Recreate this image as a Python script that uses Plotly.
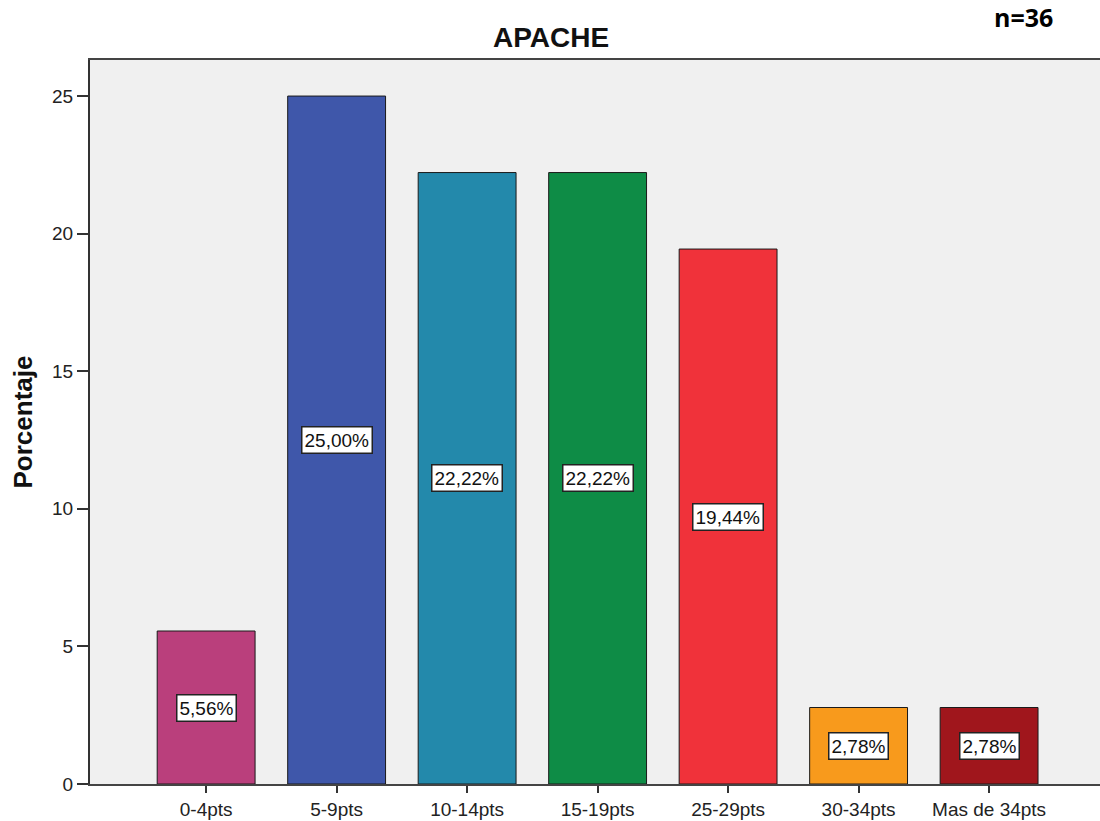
import plotly.graph_objects as go

categories = ["0-4pts", "5-9pts", "10-14pts", "15-19pts", "25-29pts", "30-34pts", "Mas de 34pts"]
percentages = [5.56, 25.00, 22.22, 22.22, 19.44, 2.78, 2.78]
bar_colors = ["#BA3F7C", "#3F57AA", "#2389AB", "#0E8C46", "#F0323A", "#F89A1C", "#A0161C"]
y_ticks = [0, 5, 10, 15, 20, 25]

fig = go.Figure()
fig.add_trace(go.Bar(
    x=list(range(len(categories))),
    y=percentages,
    width=0.75,
    marker=dict(color=bar_colors, line=dict(color="#1a1a1a", width=1)),
    hoverinfo="skip",
))

# value labels in boxes at mid-height of each bar
for i, v in enumerate(percentages):
    fig.add_annotation(
        x=i, y=v / 2, text=f"{v:.2f}".replace(".", ",") + "%",
        showarrow=False, bgcolor="white", bordercolor="#222222", borderwidth=1.5,
        borderpad=2, font=dict(family="Liberation Sans, Arial", size=19, color="#111111"),
    )

# sample size note in the top right corner
fig.add_annotation(
    x=(1023 - 90) / 1010, y=1 + (60 - 17) / 724, xref="paper", yref="paper",
    xanchor="center", yanchor="middle", text="<b>n=36</b>", showarrow=False,
    font=dict(family="Open Sans, sans-serif", size=25, color="#000000"),
)

fig.update_layout(
    width=1100, height=821,
    margin=dict(l=90, r=0, t=60, b=37),
    paper_bgcolor="white", plot_bgcolor="#F0F0F0",
    showlegend=False,
    title=dict(text="<b>APACHE</b>", x=551 / 1100, xanchor="center", y=1 - 37 / 821, yanchor="middle",
               font=dict(family="Liberation Sans, Arial", size=28, color="#111111")),
)

fig.update_xaxes(
    range=[-0.89, 6.85], tickmode="array", tickvals=list(range(len(categories))), ticktext=categories,
    ticks="outside", ticklen=7, tickcolor="#333333", tickwidth=2,
    showline=True, linecolor="#444444", linewidth=2, mirror=True, showgrid=False, zeroline=False,
    tickfont=dict(family="Liberation Sans, Arial", size=19, color="#222222"),
)
fig.update_yaxes(
    range=[0, 26.31], tickmode="array", tickvals=y_ticks,
    ticks="outside", ticklen=11, tickcolor="#333333", tickwidth=2,
    showline=True, linecolor="#333333", linewidth=2, showgrid=False, zeroline=False,
    tickfont=dict(family="Liberation Sans, Arial", size=19, color="#222222"),
    title=dict(text="<b>Porcentaje</b>", standoff=12,
               font=dict(family="Liberation Sans, Arial", size=26, color="#111111")),
)

fig.write_html("out.html")
